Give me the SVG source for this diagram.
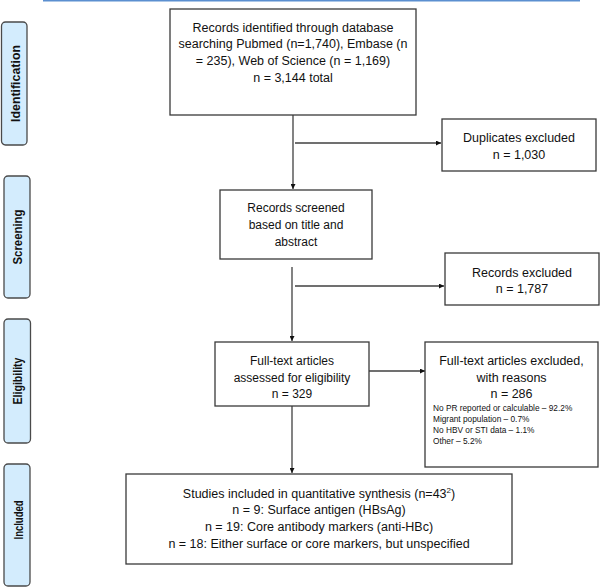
<svg xmlns="http://www.w3.org/2000/svg" width="600" height="587" viewBox="0 0 600 587">
<defs>
<style>
.box{fill:#fff;stroke:#3a3a3a;stroke-width:1.3}
.lab{fill:#d3ecfd;stroke:#4a4a4a;stroke-width:1.3}
.t{font-family:"Liberation Sans",Arial,sans-serif;font-size:12.5px;fill:#111;text-anchor:middle}
.t12{font-size:12px}
.s{font-family:"Liberation Sans",Arial,sans-serif;font-size:8.3px;fill:#111}
.lt{font-family:"Liberation Sans",Arial,sans-serif;font-size:12px;font-weight:bold;fill:#111;text-anchor:middle}
.c{fill:none;stroke:#404040;stroke-width:1.3}
</style>
<marker id="ah" viewBox="0 0 10 10" refX="10" refY="5" markerWidth="5" markerHeight="5" markerUnits="userSpaceOnUse" orient="auto">
<path d="M0,0 L10,5 L0,10 z" fill="#111"/>
</marker>
</defs>
<rect x="0" y="0" width="600" height="587" fill="#fff"/>
<line x1="43" y1="0.5" x2="580" y2="0.5" stroke="#5b8fd0" stroke-width="2"/>

<g id="label-identification">
<rect class="lab" x="1.5" y="22" width="25.5" height="123" rx="4"/>
<text class="lt" transform="translate(20,83.5) rotate(-90)" textLength="77" lengthAdjust="spacingAndGlyphs">Identification</text>
</g>
<g id="label-screening">
<rect class="lab" x="4" y="176" width="26" height="122" rx="4"/>
<text class="lt" transform="translate(22,237) rotate(-90)" textLength="55" lengthAdjust="spacingAndGlyphs">Screening</text>
</g>
<g id="label-eligibility">
<rect class="lab" x="4" y="319" width="26.5" height="124" rx="4"/>
<text class="lt" transform="translate(22,381) rotate(-90)" textLength="47" lengthAdjust="spacingAndGlyphs">Eligibility</text>
</g>
<g id="label-included">
<rect class="lab" x="4" y="464" width="26" height="122" rx="4"/>
<text class="lt" transform="translate(22.5,520) rotate(-90)" textLength="39" lengthAdjust="spacingAndGlyphs">Included</text>
</g>

<g id="connectors">
<line class="c" x1="293" y1="115" x2="293" y2="189" marker-end="url(#ah)"/>
<line class="c" x1="295" y1="143" x2="441" y2="143" marker-end="url(#ah)"/>
<line class="c" x1="292" y1="267" x2="292" y2="341" marker-end="url(#ah)"/>
<line class="c" x1="295" y1="286" x2="444" y2="286" marker-end="url(#ah)"/>
<line class="c" x1="369" y1="371" x2="425" y2="371" marker-end="url(#ah)"/>
<line class="c" x1="292" y1="406" x2="292" y2="473" marker-end="url(#ah)"/>
</g>

<g id="records-identified">
<rect class="box" x="170" y="9" width="246" height="106"/>
<text class="t" x="293" y="31.5">Records identified through database</text>
<text class="t" x="293" y="48">searching Pubmed (n=1,740), Embase (n</text>
<text class="t" x="293" y="65">= 235), Web of Science (n = 1,169)</text>
<text class="t" x="293" y="82">n = 3,144 total</text>
</g>
<g id="duplicates-excluded">
<rect class="box" x="442" y="119" width="154" height="52"/>
<text class="t" x="519" y="141.5">Duplicates excluded</text>
<text class="t" x="519" y="158.5">n = 1,030</text>
</g>
<g id="records-screened">
<rect class="box" x="220" y="190" width="152" height="69"/>
<text class="t t12" x="296" y="212">Records screened</text>
<text class="t t12" x="296" y="229">based on title and</text>
<text class="t t12" x="296" y="245.5">abstract</text>
</g>
<g id="records-excluded">
<rect class="box" x="445" y="253" width="154" height="52"/>
<text class="t" x="522" y="276.5">Records excluded</text>
<text class="t" x="522" y="292.5">n = 1,787</text>
</g>
<g id="full-text-assessed">
<rect class="box" x="215" y="342" width="154" height="64"/>
<text class="t t12" x="292" y="364.5">Full-text articles</text>
<text class="t t12" x="292" y="381.5">assessed for eligibility</text>
<text class="t t12" x="292" y="397.5">n = 329</text>
</g>
<g id="full-text-excluded">
<rect class="box" x="425" y="342" width="173" height="125"/>
<text class="t" x="511.5" y="364.5">Full-text articles excluded,</text>
<text class="t" x="511.5" y="381.5">with reasons</text>
<text class="t" x="511.5" y="397.5">n = 286</text>
<text class="s" x="433" y="411">No PR reported or calculable – 92.2%</text>
<text class="s" x="433" y="422">Migrant population – 0.7%</text>
<text class="s" x="433" y="432.5">No HBV or STI data – 1.1%</text>
<text class="s" x="433" y="443.5">Other – 5.2%</text>
</g>
<g id="studies-included">
<rect class="box" x="126" y="474" width="386" height="90"/>
<text class="t" x="319" y="497.5">Studies included in quantitative synthesis (n=43<tspan font-size="8" dy="-5">2</tspan><tspan dy="5">)</tspan></text>
<text class="t" x="319" y="514">n = 9: Surface antigen (HBsAg)</text>
<text class="t" x="319" y="530.5">n = 19: Core antibody markers (anti-HBc)</text>
<text class="t" x="319" y="547.5">n = 18: Either surface or core markers, but unspecified</text>
</g>
</svg>
